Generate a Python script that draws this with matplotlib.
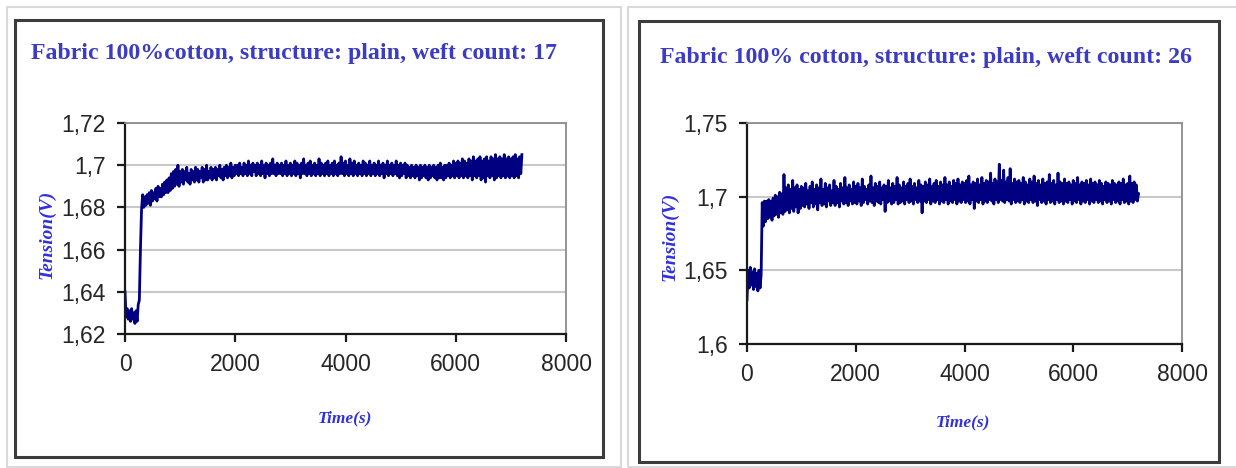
import numpy as np
import matplotlib
matplotlib.use("Agg")
import matplotlib.pyplot as plt
from matplotlib.patches import Rectangle
from matplotlib.ticker import FuncFormatter

# sample grid of the recordings (s)
time_17 = np.arange(0, 7201, 20)
time_26 = np.arange(0, 7201, 20)

# weft count 17, tension (V)
tension_17 = [
    1.640, 1.628, 1.632, 1.627, 1.631, 1.626, 1.632, 1.627, 1.630, 1.625,
    1.631, 1.626, 1.634, 1.636, 1.660, 1.679, 1.686,
    1.680, 1.685, 1.681, 1.686, 1.682, 1.687, 1.681, 1.688, 1.683, 1.687,
    1.684, 1.689, 1.683, 1.690, 1.685, 1.689, 1.685, 1.691, 1.686, 1.692,
    1.687, 1.693, 1.687, 1.694, 1.688, 1.696, 1.689, 1.697, 1.690, 1.698,
    1.691, 1.700, 1.690, 1.697,
    1.692, 1.698, 1.691, 1.697, 1.693, 1.699, 1.692, 1.696, 1.691, 1.698,
    1.693, 1.697, 1.692, 1.699, 1.693, 1.698, 1.692, 1.697, 1.694, 1.699,
    1.692, 1.698, 1.693, 1.700, 1.693, 1.697, 1.694, 1.699, 1.693, 1.698,
    1.694, 1.699, 1.693, 1.698, 1.695, 1.700, 1.694, 1.698, 1.693, 1.699,
    1.695, 1.700, 1.694, 1.699, 1.695, 1.701, 1.694, 1.699, 1.695, 1.700,
    1.696, 1.700, 1.695, 1.701, 1.696, 1.699, 1.695, 1.701, 1.696, 1.700,
    1.695, 1.702, 1.696, 1.700, 1.695, 1.701, 1.697, 1.700, 1.695, 1.701,
    1.696, 1.700, 1.695, 1.702, 1.696, 1.700, 1.694, 1.701, 1.696, 1.700,
    1.695, 1.701, 1.696, 1.703, 1.696, 1.700, 1.695, 1.701, 1.696, 1.700,
    1.696, 1.701, 1.695, 1.700, 1.696, 1.702, 1.695, 1.700, 1.696, 1.701,
    1.695, 1.700, 1.696, 1.702, 1.695, 1.701, 1.696, 1.700, 1.694, 1.701,
    1.696, 1.703, 1.696, 1.700, 1.695, 1.701, 1.696, 1.702, 1.695, 1.700,
    1.696, 1.701, 1.695, 1.700, 1.696, 1.703, 1.695, 1.701, 1.696, 1.700,
    1.695, 1.701, 1.696, 1.702, 1.695, 1.700, 1.696, 1.701, 1.695, 1.702,
    1.696, 1.700, 1.695, 1.701, 1.696, 1.704, 1.696, 1.701, 1.695, 1.702,
    1.696, 1.700, 1.695, 1.703, 1.696, 1.701, 1.695, 1.702, 1.696, 1.700,
    1.695, 1.701, 1.696, 1.700, 1.695, 1.702, 1.696, 1.701, 1.695, 1.700,
    1.696, 1.702, 1.695, 1.700, 1.696, 1.701, 1.695, 1.700, 1.696, 1.702,
    1.695, 1.700, 1.696, 1.701, 1.694, 1.700, 1.696, 1.702, 1.695, 1.700,
    1.696, 1.701, 1.695, 1.700, 1.696, 1.702, 1.695, 1.700, 1.694, 1.701,
    1.695, 1.700, 1.696, 1.701, 1.694, 1.700, 1.695, 1.699, 1.694, 1.700,
    1.695, 1.699, 1.694, 1.700, 1.695, 1.699, 1.693, 1.700, 1.694, 1.699,
    1.695, 1.700, 1.694, 1.699, 1.693, 1.700, 1.694, 1.699, 1.695, 1.700,
    1.694, 1.699, 1.693, 1.700, 1.694, 1.701, 1.694, 1.699, 1.693, 1.700,
    1.694, 1.700, 1.695, 1.701, 1.694, 1.700, 1.695, 1.702, 1.694, 1.701,
    1.695, 1.702, 1.694, 1.701, 1.695, 1.703, 1.694, 1.702, 1.695, 1.701,
    1.694, 1.703, 1.695, 1.702, 1.693, 1.704, 1.695, 1.702, 1.694, 1.703,
    1.695, 1.704, 1.693, 1.702, 1.694, 1.703, 1.692, 1.704, 1.695, 1.702,
    1.694, 1.704, 1.695, 1.703, 1.693, 1.705, 1.694, 1.703, 1.695, 1.704,
    1.694, 1.703, 1.695, 1.705, 1.694, 1.703, 1.695, 1.704, 1.694, 1.703,
    1.695, 1.704, 1.694, 1.705, 1.695, 1.703, 1.694, 1.704, 1.696, 1.705,
]

# weft count 26
tension_26 = [
    1.630, 1.650, 1.638, 1.652, 1.640, 1.649, 1.637, 1.651, 1.639, 1.648,
    1.636, 1.650, 1.638, 1.647, 1.696, 1.680, 1.697, 1.683,
    1.697, 1.685, 1.698, 1.686, 1.697, 1.684, 1.699, 1.687, 1.701, 1.688,
    1.700, 1.686, 1.703, 1.689, 1.702, 1.688, 1.715, 1.690, 1.706, 1.691,
    1.708, 1.689, 1.705, 1.692, 1.711, 1.690, 1.706, 1.693, 1.708, 1.689,
    1.705, 1.692, 1.707,
    1.694, 1.706, 1.693, 1.709, 1.695, 1.704, 1.692, 1.707, 1.696, 1.710,
    1.693, 1.705, 1.695, 1.708, 1.691, 1.706, 1.696, 1.712, 1.694, 1.705,
    1.695, 1.709, 1.693, 1.706, 1.697, 1.708, 1.694, 1.704, 1.696, 1.711,
    1.694, 1.707, 1.696, 1.705, 1.693, 1.709, 1.697, 1.706, 1.695, 1.713,
    1.696, 1.706, 1.694, 1.708, 1.697, 1.705, 1.695, 1.710, 1.696, 1.707,
    1.695, 1.709, 1.697, 1.706, 1.694, 1.712, 1.696, 1.707, 1.698, 1.705,
    1.695, 1.708, 1.697, 1.714, 1.696, 1.706, 1.694, 1.709, 1.697, 1.707,
    1.696, 1.710, 1.695, 1.706, 1.698, 1.708, 1.690, 1.707, 1.696, 1.711,
    1.697, 1.706, 1.695, 1.709, 1.696, 1.707, 1.698, 1.713, 1.695, 1.708,
    1.696, 1.706, 1.697, 1.710, 1.695, 1.707, 1.698, 1.709, 1.696, 1.712,
    1.697, 1.707, 1.695, 1.709, 1.698, 1.706, 1.696, 1.711, 1.697, 1.708,
    1.689, 1.707, 1.697, 1.710, 1.696, 1.708, 1.698, 1.712, 1.695, 1.707,
    1.697, 1.709, 1.696, 1.711, 1.698, 1.707, 1.695, 1.710, 1.697, 1.708,
    1.696, 1.713, 1.698, 1.708, 1.695, 1.710, 1.697, 1.707, 1.696, 1.711,
    1.698, 1.709, 1.695, 1.712, 1.697, 1.708, 1.696, 1.710, 1.698, 1.709,
    1.696, 1.711, 1.697, 1.714, 1.695, 1.708, 1.698, 1.710, 1.692, 1.709,
    1.697, 1.712, 1.696, 1.708, 1.698, 1.713, 1.695, 1.709, 1.697, 1.711,
    1.696, 1.710, 1.698, 1.716, 1.697, 1.709, 1.695, 1.712, 1.698, 1.710,
    1.696, 1.722, 1.698, 1.711, 1.697, 1.718, 1.696, 1.710, 1.698, 1.713,
    1.697, 1.719, 1.695, 1.709, 1.698, 1.712, 1.696, 1.710, 1.697, 1.711,
    1.696, 1.709, 1.698, 1.713, 1.695, 1.710, 1.697, 1.708, 1.696, 1.712,
    1.698, 1.710, 1.696, 1.714, 1.697, 1.709, 1.694, 1.711, 1.698, 1.708,
    1.696, 1.712, 1.697, 1.709, 1.695, 1.710, 1.698, 1.715, 1.696, 1.709,
    1.697, 1.711, 1.695, 1.708, 1.698, 1.716, 1.696, 1.710, 1.697, 1.709,
    1.695, 1.712, 1.697, 1.709, 1.696, 1.710, 1.698, 1.708, 1.695, 1.711,
    1.697, 1.709, 1.696, 1.713, 1.698, 1.708, 1.695, 1.710, 1.697, 1.709,
    1.696, 1.711, 1.698, 1.708, 1.695, 1.712, 1.697, 1.709, 1.696, 1.710,
    1.698, 1.708, 1.696, 1.711, 1.697, 1.709, 1.695, 1.707, 1.698, 1.710,
    1.696, 1.709, 1.697, 1.708, 1.695, 1.711, 1.698, 1.709, 1.696, 1.708,
    1.697, 1.710, 1.695, 1.709, 1.698, 1.712, 1.696, 1.708, 1.697, 1.709,
    1.695, 1.714, 1.697, 1.709, 1.696, 1.710, 1.698, 1.708, 1.697, 1.702,
]

titles = ["Fabric 100%cotton, structure: plain, weft count: 17",
          "Fabric 100% cotton, structure: plain, weft count: 26"]
xticks = [0, 2000, 4000, 6000, 8000]
yticks_17 = [1.62, 1.64, 1.66, 1.68, 1.70, 1.72]
yticks_26 = [1.60, 1.65, 1.70, 1.75]

W, H = 1236, 468
fig = plt.figure(figsize=(W / 100, H / 100), dpi=100)

def px_rect(x0, y0, x1, y1, **kw):
    # rectangle given in image pixels (top-left origin)
    r = Rectangle((x0 / W, 1 - y1 / H), (x1 - x0) / W, (y1 - y0) / H,
                  transform=fig.transFigure, fill=False, **kw)
    fig.add_artist(r)

# outer light frames and black chart boxes
px_rect(7, 7, 621, 467, edgecolor="#d9d9d9", linewidth=1.5)
px_rect(628, 7, 1240, 467, edgecolor="#d9d9d9", linewidth=1.5)
px_rect(15, 20, 603, 457, edgecolor="#3c3c3c", linewidth=2.2)
px_rect(639, 21, 1219, 462, edgecolor="#3c3c3c", linewidth=2.2)

comma = FuncFormatter(lambda v, p: ("%g" % v).replace(".", ","))
title_col = "#3b3bc4"
label_col = "#3030e0"

def draw(box, t, y, yticks, title, title_xy, ylab_xy, xlab_xy):
    x0, y0, x1, y1 = box
    ax = fig.add_axes([x0 / W, 1 - y1 / H, (x1 - x0) / W, (y1 - y0) / H])
    ax.plot(t, y, color="#000080", linewidth=2.0)
    ax.set_xlim(0, 8000)
    ax.set_ylim(yticks[0], yticks[-1])
    ax.set_xticks(xticks)
    ax.set_yticks(yticks)
    ax.yaxis.set_major_formatter(comma)
    ax.grid(axis="y", color="#c8c8c8", linewidth=1.5)
    ax.set_axisbelow(True)
    for s in ["top", "right"]:
        ax.spines[s].set_color("#8c8c8c")
        ax.spines[s].set_linewidth(1.3)
    for s in ["left", "bottom"]:
        ax.spines[s].set_color("#1a1a1a")
        ax.spines[s].set_linewidth(1.6)
    ax.tick_params(direction="out", length=6, width=1.6, color="#1a1a1a",
                   labelsize=16.5, labelcolor="#262626", pad=8)
    for lab in ax.get_xticklabels() + ax.get_yticklabels():
        lab.set_family("Liberation Sans")
    fig.text(title_xy[0] / W, 1 - title_xy[1] / H, title, ha="left", va="center",
             fontsize=17.2, fontweight="bold", family="Liberation Serif", color=title_col)
    fig.text(ylab_xy[0] / W, 1 - ylab_xy[1] / H, "Tension(V)", rotation=90,
             ha="center", va="center", fontsize=14, fontweight="bold",
             style="italic", family="Liberation Serif", color=label_col)
    fig.text(xlab_xy[0] / W, 1 - xlab_xy[1] / H, "Time(s)", ha="center",
             va="center", fontsize=12.5, fontweight="bold", style="italic",
             family="Liberation Serif", color=label_col)
    return ax

draw((125, 123, 566, 334), time_17, tension_17, yticks_17, titles[0],
     (31, 53), (47, 234), (345, 418))
draw((747, 123, 1182, 344), time_26, tension_26, yticks_26, titles[1],
     (660, 57), (670, 236), (963, 422))

fig.savefig("out.png", dpi=100)
